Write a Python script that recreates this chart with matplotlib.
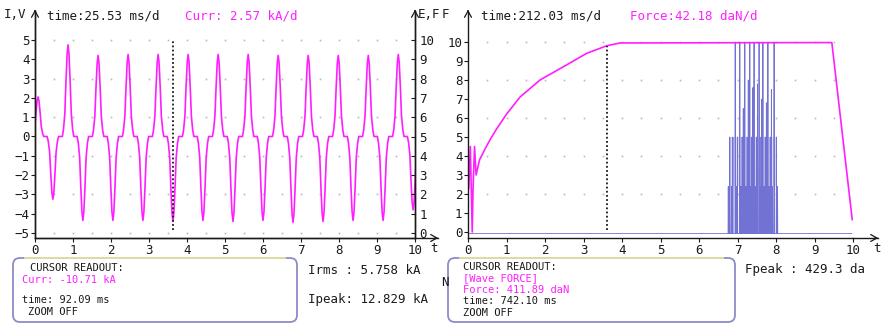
import matplotlib
matplotlib.use("Agg")
import matplotlib.pyplot as plt
import numpy as np
from matplotlib.patches import FancyBboxPatch

W, H = 882, 323
MAGENTA = "#ff1eff"
BLUE = "#7272d4"
INK = "#1a1a1a"
DOT = "#b8b8b8"
FRAME = "#8c8cc8"
MONO = "DejaVu Sans Mono"
FS = 9
FS_BOX = 7.5

# current trace: pulse centres (x10 ms/d divisions) and peak values (kA/d divisions)
curr_pos_t = [0.08, 0.87, 1.66, 2.45, 3.24, 4.03, 4.82, 5.61, 6.40, 7.19, 7.98, 8.77, 9.56]
curr_pos_v = [2.05, 4.75, 4.2, 4.25, 4.25, 4.25, 4.25, 4.25, 4.2, 4.2, 4.2, 4.2, 4.25]
curr_neg_t = [0.47, 1.26, 2.05, 2.84, 3.63, 4.42, 5.21, 6.00, 6.79, 7.58, 8.37, 9.16, 9.95]
curr_neg_v = [-3.25, -4.35, -4.35, -4.35, -4.4, -4.35, -4.4, -4.35, -4.45, -4.4, -4.35, -4.35, -3.8]
# shape of one conduction pulse around its centre
pulse_dt = [-0.15, -0.12, -0.085, -0.055, -0.025, 0.0, 0.025, 0.055, 0.085, 0.12, 0.15]
pulse_shape = [0.0, 0.08, 0.25, 0.6, 0.9, 1.0, 0.9, 0.6, 0.25, 0.08, 0.0]
curr_cursor = 3.63

# force trace
force_t = [0.02, 0.06, 0.11, 0.13, 0.17, 0.21, 0.30, 0.45, 0.60, 0.75, 1.00, 1.35,
           1.87, 2.48, 3.08, 3.60, 3.95, 9.45, 9.98]
force_v = [2.3, 4.5, 0.0, 2.2, 4.5, 3.0, 3.8, 4.4, 4.95, 5.45, 6.2, 7.1,
           8.0, 8.7, 9.4, 9.8, 9.95, 9.97, 0.65]
force_cursor = 3.61

# encoder burst on the force panel
burst_t = [6.76, 6.80, 6.84, 6.88, 6.94, 6.97, 7.00, 7.06, 7.09, 7.12, 7.15, 7.19,
           7.22, 7.25, 7.28, 7.32, 7.34, 7.37, 7.40, 7.43, 7.46, 7.49, 7.52, 7.56,
           7.58, 7.61, 7.63, 7.66, 7.69, 7.72, 7.75, 7.79, 7.82, 7.85, 7.88, 7.91,
           7.95, 8.01, 8.04]
burst_v = [2.4, 5.0, 2.4, 5.0, 10, 2.4, 5.0, 10, 2.4, 5.0, 6.5, 10,
           2.4, 5.0, 8.0, 10, 2.4, 5.0, 7.6, 10, 2.4, 5.0, 7.8, 10,
           2.4, 5.0, 7.0, 10, 2.4, 5.0, 6.8, 10, 2.4, 5.0, 7.5, 2.4,
           10, 5.0, 2.4]
band_t = [6.78, 8.02]
band_lo = [2.4, 2.4]
band_hi = [5.0, 5.0]
base_end = 9.97
base_level = -0.08

x_ticks = list(range(11))


def place(px_l, px_r, px_t, px_b):
    return [px_l / W, 1 - px_b / H, (px_r - px_l) / W, (px_b - px_t) / H]


def ylim_from(px_axis, px_top, px_hi, px_lo, v_hi, v_lo):
    scale = (px_lo - px_hi) / (v_hi - v_lo)
    return v_lo - (px_axis - px_lo) / scale, v_hi + (px_hi - px_top) / scale


def style_ticks(ax):
    ax.set_xticks(x_ticks)
    ax.tick_params(axis="both", labelsize=FS, colors=INK, length=3, width=0.8, pad=1)
    for lab in ax.get_xticklabels() + ax.get_yticklabels():
        lab.set_fontfamily(MONO)
    for sp in ax.spines.values():
        sp.set_linewidth(1.0)
        sp.set_color(INK)


fig = plt.figure(figsize=(W / 100, H / 100), dpi=100, facecolor="white")

# ---- left panel: current ----
axl = fig.add_axes(place(35, 415, 11, 238))
axl.set_xlim(0, 10)
axl.set_ylim(*ylim_from(238, 11, 40, 233, 5, -5))
axl.spines["top"].set_visible(False)
axl.set_yticks(range(-5, 6))
style_ticks(axl)

gx = np.arange(0.5, 10, 0.5)
for gy in (-5, -3, -1, 1, 3, 5):
    axl.plot(gx, [gy] * len(gx), ls="none", marker="s", ms=1.2, color=DOT, mew=0)

pts = []
for tc, amp in zip(curr_pos_t + curr_neg_t, curr_pos_v + curr_neg_v):
    for dt, s in zip(pulse_dt, pulse_shape):
        pts.append((tc + dt, amp * s))
pts.sort()
axl.plot([p[0] for p in pts], [p[1] for p in pts], color=MAGENTA, lw=1.2)
axl.plot([curr_cursor, curr_cursor], [-4.85, 5.0], color=INK, lw=1.3, ls=(0, (1, 1.3)))

axr = axl.twinx()
lo, hi = axl.get_ylim()
axr.set_ylim(lo + 5, hi + 5)
axr.set_yticks(range(0, 11))
axr.spines["top"].set_visible(False)
style_ticks(axr)
axr.tick_params(axis="y", direction="in", pad=3)

# ---- right panel: force ----
axf = fig.add_axes(place(468, 853, 12, 238))
axf.set_xlim(0, 10)
axf.set_ylim(*ylim_from(238, 12, 42, 232, 10, 0))
axf.spines["top"].set_visible(False)
axf.spines["right"].set_visible(False)
axf.set_yticks(range(0, 11))
style_ticks(axf)

for gy in (2, 4, 6, 8, 10):
    axf.plot(gx, [gy] * len(gx), ls="none", marker="s", ms=1.2, color=DOT, mew=0)

axf.fill_between(band_t, band_lo, band_hi, color="#dcdcf5", lw=0)
bx, by = [0.0], [base_level]
for t, v in zip(burst_t, burst_v):
    bx += [t - 0.006, t, t + 0.006]
    by += [base_level, v, base_level]
bx.append(base_end)
by.append(base_level)
axf.plot(bx, by, color=BLUE, lw=0.6)
axf.plot(force_t, force_v, color=MAGENTA, lw=1.2)
axf.plot([force_cursor, force_cursor], [0.1, 9.8], color=INK, lw=1.3, ls=(0, (1, 1.3)))

# ---- overlay in pixel units: arrows, headers, readout boxes ----
ov = fig.add_axes([0, 0, 1, 1], zorder=10)
ov.set_xlim(0, W)
ov.set_ylim(H, 0)
ov.axis("off")

arrow = dict(arrowstyle="->,head_length=0.45,head_width=0.25", lw=0.9, color=INK)
for x in (35, 415, 468):
    ov.annotate("", xy=(x, 7), xytext=(x, 14), arrowprops=arrow)
ov.plot([415, 438], [238, 238], color=INK, lw=1.0)
ov.annotate("", xy=(441, 238), xytext=(432, 238), arrowprops=arrow)
ov.plot([853, 878], [238, 238], color=INK, lw=1.0)
ov.annotate("", xy=(881, 238), xytext=(872, 238), arrowprops=arrow)


def txt(x, y, s, color=INK, size=FS, **kw):
    ov.text(x, y, s, fontfamily=MONO, fontsize=size, color=color,
            ha="left", va="center", **kw)


txt(4, 15, "I,V")
txt(47, 16, "time:25.53 ms/d")
txt(185, 16, "Curr: 2.57 kA/d", MAGENTA)
txt(418, 15, "E,F")
txt(442, 15, "F")
txt(481, 16, "time:212.03 ms/d")
txt(630, 16, "Force:42.18 daN/d", MAGENTA)
txt(430, 249, "t")
txt(873, 249, "t")

for x0, x1 in ((13, 297), (448, 735)):
    ov.add_patch(FancyBboxPatch((x0, 258), x1 - x0, 64,
                                boxstyle="round,pad=0,rounding_size=7",
                                ec=FRAME, fc="white", lw=1.3))
    ov.plot([x0 + 12, x1 - 12], [258, 258], color="#e4e49c", lw=1.3)

txt(30, 268, "CURSOR READOUT:", size=FS_BOX)
txt(22, 280, "Curr: -10.71 kA", MAGENTA, size=FS_BOX)
txt(22, 300, "time: 92.09 ms", size=FS_BOX)
txt(28, 312, "ZOOM OFF", size=FS_BOX)
txt(308, 270, "Irms : 5.758 kA")
txt(308, 300, "Ipeak: 12.829 kA")
txt(441, 283, "N")

txt(463, 267, "CURSOR READOUT:", size=FS_BOX)
txt(463, 278.5, "[Wave FORCE]", MAGENTA, size=FS_BOX)
txt(463, 290, "Force: 411.89 daN", MAGENTA, size=FS_BOX)
txt(463, 301.5, "time: 742.10 ms", size=FS_BOX)
txt(463, 313, "ZOOM OFF", size=FS_BOX)
txt(745, 270, "Fpeak : 429.3 da")

fig.savefig("out.png", dpi=100, facecolor="white")
